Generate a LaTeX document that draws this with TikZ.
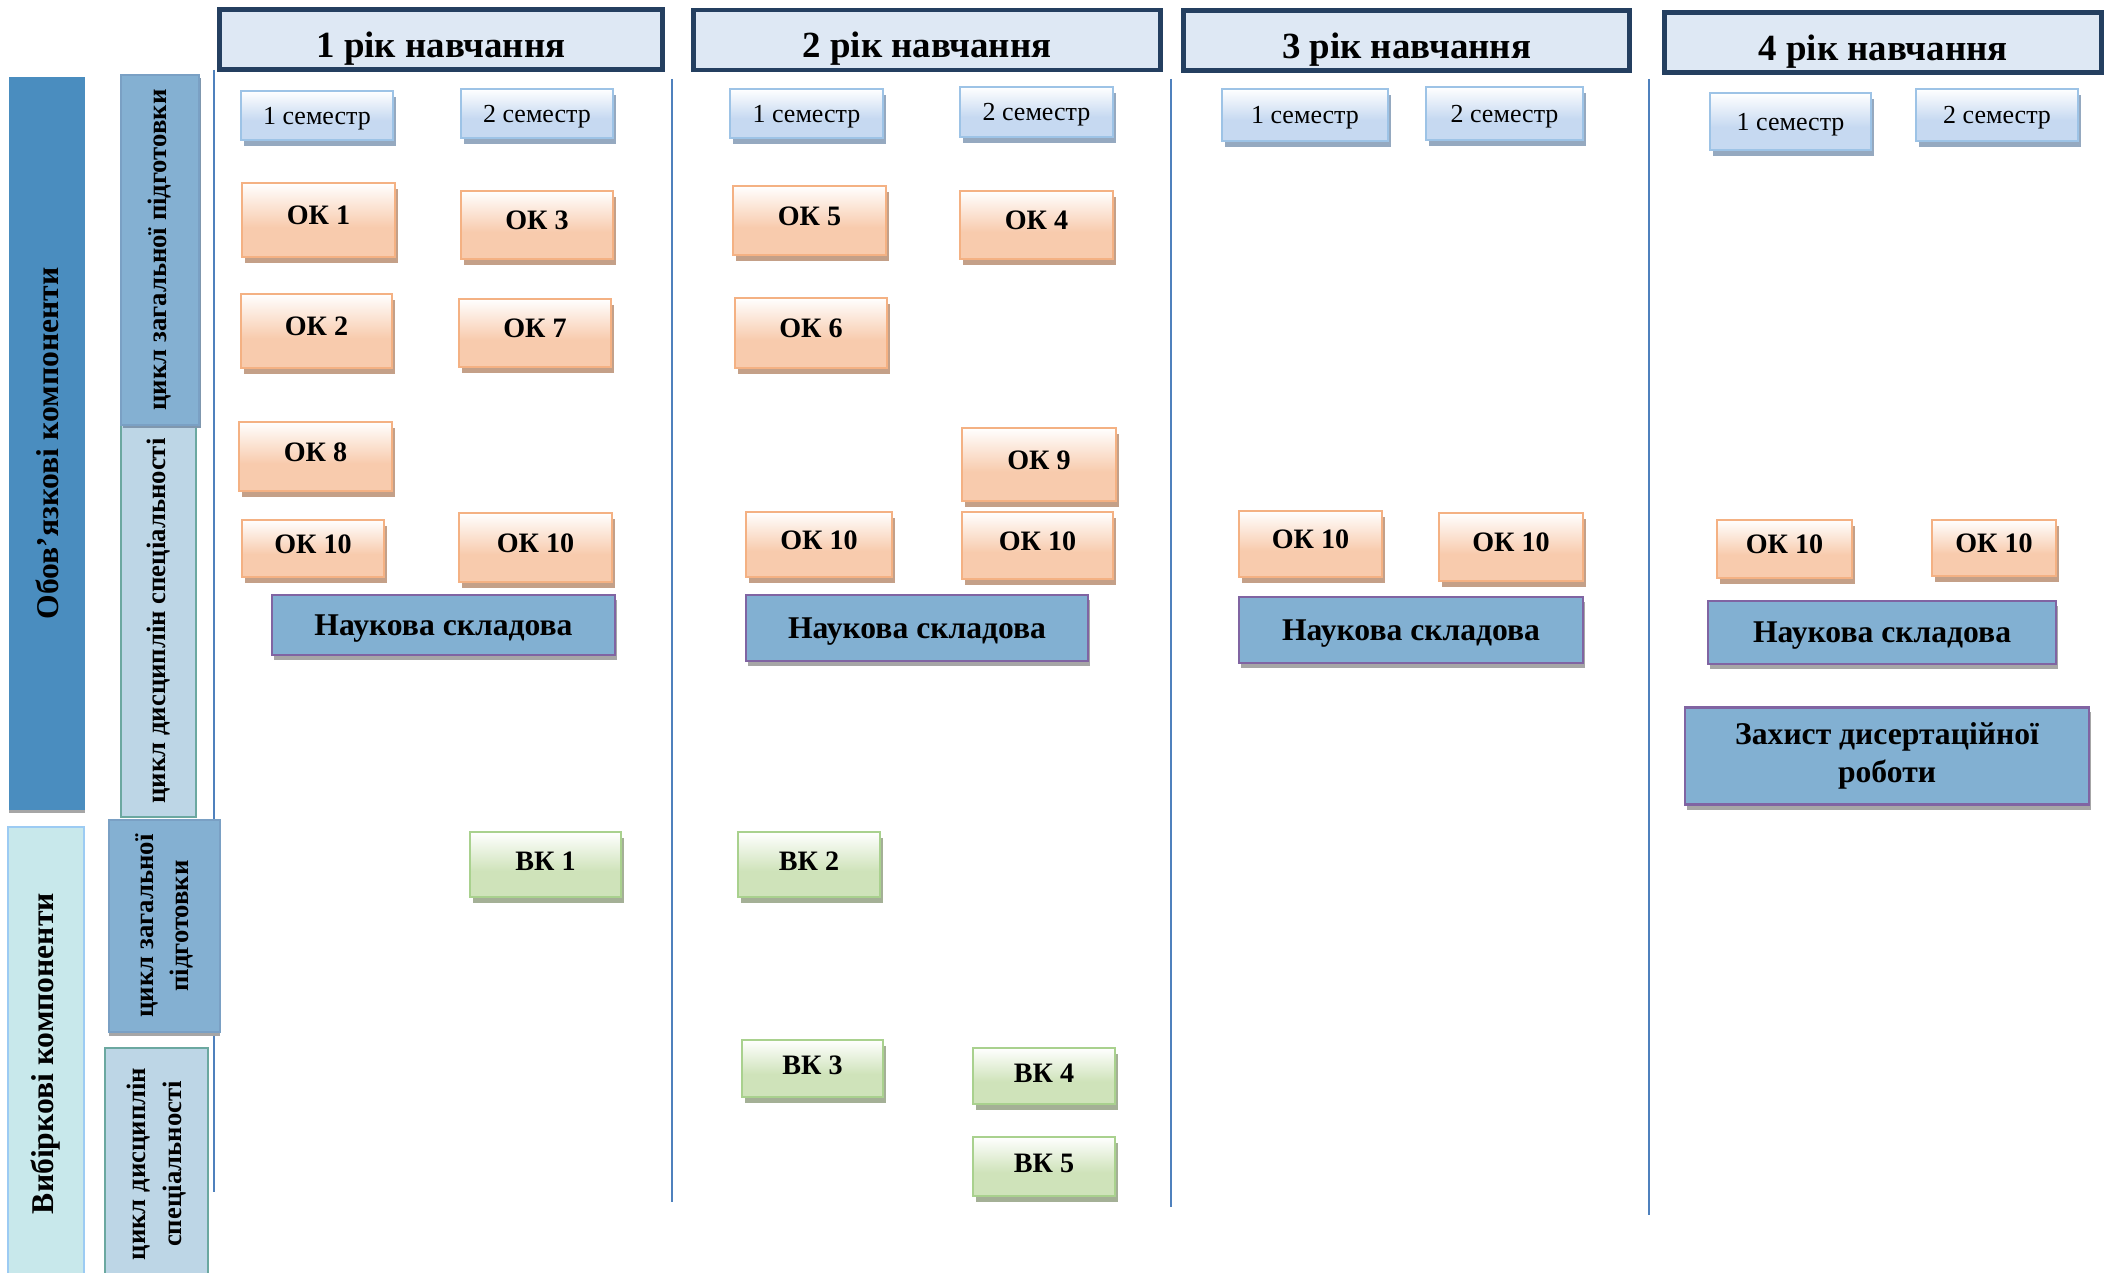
\documentclass[tikz,border=0pt]{standalone}
\usepackage{fontspec}
\setmainfont{Liberation Serif}
\usepackage{tikz}
\usetikzlibrary{shadows}
\usetikzlibrary{shapes}
\definecolor{yearfill}{HTML}{DEE8F4}
\definecolor{yearline}{HTML}{243F60}
\definecolor{semfill}{HTML}{C6D9F1}
\definecolor{semline}{HTML}{9DC3E6}
\definecolor{semshade}{HTML}{95A9C0}
\definecolor{okfill}{HTML}{F8CBAD}
\definecolor{okline}{HTML}{F4B183}
\definecolor{okshade}{HTML}{C4A088}
\definecolor{vkfill}{HTML}{CFE3BA}
\definecolor{vkline}{HTML}{A9D18E}
\definecolor{vkshade}{HTML}{A4B096}
\definecolor{scifill}{HTML}{82B0D2}
\definecolor{sciline}{HTML}{8064A2}
\definecolor{scishade}{HTML}{A6A6A6}
\definecolor{obovfill}{HTML}{4A8DBF}
\definecolor{cycfill}{HTML}{84B0D2}
\definecolor{cycline}{HTML}{7AA0C4}
\definecolor{cycshade}{HTML}{7F97AE}
\definecolor{specfill}{HTML}{BDD6E6}
\definecolor{specline}{HTML}{6BA8A0}
\definecolor{vybfill}{HTML}{C8E8EB}
\definecolor{vybline}{HTML}{9CCBF3}
\definecolor{rulecolor}{HTML}{4F81BD}
% white on top, colour in the lower part
\pgfdeclareverticalshading{semgrad}{100bp}{color(0bp)=(semfill); color(25bp)=(semfill); color(45bp)=(semfill); color(75bp)=(white); color(100bp)=(white)}
\pgfdeclareverticalshading{okgrad}{100bp}{color(0bp)=(okfill); color(25bp)=(okfill); color(45bp)=(okfill); color(75bp)=(white); color(100bp)=(white)}
\pgfdeclareverticalshading{vkgrad}{100bp}{color(0bp)=(vkfill); color(25bp)=(vkfill); color(45bp)=(vkfill); color(75bp)=(white); color(100bp)=(white)}
\tikzstyle{yearbox}=[rectangle,draw=yearline,line width=1.4pt,fill=yearfill,inner sep=0pt,font=\fontsize{10.5}{12}\selectfont\bfseries,text height=0.36cm,text depth=0cm]
\tikzstyle{semesterbox}=[rectangle,draw=semline,line width=0.8pt,shade,shading=semgrad,inner sep=0pt,font=\fontsize{7.4}{9}\selectfont,text height=0.18cm,text depth=0cm,drop shadow={shadow xshift=0.3mm,shadow yshift=-0.6mm,fill=semshade,opacity=1}]
\tikzstyle{okbox}=[rectangle,draw=okline,line width=0.8pt,shade,shading=okgrad,inner sep=0pt,font=\fontsize{8}{9}\selectfont\bfseries,text height=0.2cm,text depth=0.1cm,drop shadow={shadow xshift=0.3mm,shadow yshift=-0.6mm,fill=okshade,opacity=1}]
\tikzstyle{vkbox}=[rectangle,draw=vkline,line width=0.8pt,shade,shading=vkgrad,inner sep=0pt,font=\fontsize{8}{9}\selectfont\bfseries,text height=0.2cm,text depth=0.08cm,drop shadow={shadow xshift=0.3mm,shadow yshift=-0.6mm,fill=vkshade,opacity=1}]
\tikzstyle{scibox}=[rectangle,draw=sciline,line width=0.7pt,fill=scifill,inner sep=0pt,align=center,font=\fontsize{9}{11}\selectfont\bfseries,drop shadow={shadow xshift=0.2mm,shadow yshift=-0.5mm,fill=scishade,opacity=1}]
\tikzstyle{sidebar}=[rectangle,rotate=90,inner sep=0pt,align=center,line width=0.6pt,font=\fontsize{9}{11}\selectfont\bfseries]
\tikzstyle{cyclebar}=[sidebar,font=\fontsize{7.6}{10}\selectfont\bfseries]
\tikzstyle{rule}=[draw=rulecolor,line width=0.6pt]

\begin{document}
\begin{tikzpicture}[x=0.1mm,y=-0.1mm]
    \useasboundingbox (0,0) rectangle (2112,1273);

    % First we draw the column rules
    \foreach \xpos/\ytop/\ybot in {214/70/1192, 672/79/1202, 1171/79/1207, 1649/79/1215}
        \path[rule] (\xpos,\ytop) -- (\xpos,\ybot);

    % the years on top
    \foreach \pos/\name/\label/\w in {{(441,39.5)/year1/1 рік навчання/4.43}, {(927,40)/year2/2 рік навчання/4.67}, {(1406.5,40.5)/year3/3 рік навчання/4.46}, {(1883,42.5)/year4/4 рік навчання/4.37}}
        \node[yearbox,minimum width=\w cm,minimum height=0.6cm] (\name) at \pos {\label};

    % semesters
    \foreach \pos/\name/\label/\w/\h in {{(317,115.5)/sem11/1 семестр/1.52/0.49}, {(537,113.5)/sem12/2 семестр/1.52/0.49}, {(806.5,113.5)/sem21/1 семестр/1.53/0.49}, {(1036.5,112)/sem22/2 семестр/1.53/0.50}, {(1305,115)/sem31/1 семестр/1.66/0.52}, {(1504.5,113.5)/sem32/2 семестр/1.57/0.53}, {(1790.5,121.5)/sem41/1 семестр/1.61/0.57}, {(1997,115)/sem42/2 семестр/1.62/0.52}}
        \node[semesterbox,minimum width=\w cm,minimum height=\h cm] (\name) at \pos {\label};

    % obligatory components
    \foreach \pos/\name/\label/\w/\h in {{(318.5,220)/ok1/ОК 1/1.53/0.74}, {(537,225)/ok3/ОК 3/1.52/0.68}, {(316.5,331)/ok2/ОК 2/1.51/0.74}, {(535,333)/ok7/ОК 7/1.52/0.68}, {(315.5,456.5)/ok8/ОК 8/1.53/0.69}, {(313,548.5)/ok10i/ОК 10/1.42/0.57}, {(535.5,547.5)/ok10ii/ОК 10/1.53/0.69},
        {(809.5,220.5)/ok5/ОК 5/1.53/0.69}, {(1036.5,225)/ok4/ОК 4/1.53/0.68}, {(811,333)/ok6/ОК 6/1.52/0.70}, {(1039,464.5)/ok9/ОК 9/1.54/0.73}, {(819,544.5)/ok10iii/ОК 10/1.46/0.65}, {(1037.5,545.5)/ok10iv/ОК 10/1.51/0.67},
        {(1310.5,544)/ok10v/ОК 10/1.43/0.66}, {(1511,547)/ok10vi/ОК 10/1.44/0.68}, {(1784.5,549)/ok10vii/ОК 10/1.35/0.58}, {(1994,548)/ok10viii/ОК 10/1.24/0.56}}
        \node[okbox,minimum width=\w cm,minimum height=\h cm] (\name) at \pos {\label};

    % research part
    \foreach \pos/\name/\w/\h in {{(443.5,625)/sci1/3.43/0.60}, {(917,628)/sci2/3.42/0.66}, {(1411,630)/sci3/3.44/0.66}, {(1882,632.5)/sci4/3.48/0.63}}
        \node[scibox,minimum width=\w cm,minimum height=\h cm,text height=0.23cm,text depth=0.02cm] (\name) at \pos {Наукова складова};
    \node[scibox,minimum width=4.04cm,minimum height=0.97cm] (defence) at (1887,756) {Захист дисертаційної\\роботи};

    % elective components
    \foreach \pos/\name/\label/\w/\h in {{(545.5,864.5)/vk1/ВК 1/1.51/0.65}, {(809,864.5)/vk2/ВК 2/1.42/0.65}, {(812.5,1068.5)/vk3/ВК 3/1.41/0.57}, {(1044,1076)/vk4/ВК 4/1.42/0.56}, {(1044,1166.5)/vk5/ВК 5/1.42/0.59}}
        \node[vkbox,minimum width=\w cm,minimum height=\h cm] (\name) at \pos {\label};

    % side bars, rotated
    \node[sidebar,fill=obovfill,minimum width=7.33cm,minimum height=0.76cm,drop shadow={shadow xshift=0mm,shadow yshift=-0.35mm,fill=scishade,opacity=1}] (oblig) at (47,443.5) {Обов'язкові компоненти};
    \node[sidebar,fill=vybfill,draw=vybline,minimum width=4.53cm,minimum height=0.76cm] (elect) at (46,1053.5) {Вибіркові компоненти};
    \node[cyclebar,fill=specfill,draw=specline,minimum width=3.92cm,minimum height=0.75cm] (spec1) at (158.5,621) {цикл дисциплін спеціальності};
    \node[cyclebar,fill=cycfill,draw=cycline,minimum width=3.50cm,minimum height=0.78cm,drop shadow={shadow xshift=0.2mm,shadow yshift=-0.3mm,fill=cycshade,opacity=1}] (gen1) at (160,250) {цикл загальної підготовки};
    \node[cyclebar,fill=cycfill,draw=cycline,minimum width=2.12cm,minimum height=1.11cm,drop shadow={shadow xshift=0mm,shadow yshift=-0.4mm,fill=scishade,opacity=1}] (gen2) at (164.5,926) {цикл загальної\\підготовки};
    \node[cyclebar,fill=specfill,draw=specline,minimum width=2.32cm,minimum height=1.03cm] (spec2) at (156.5,1164) {цикл дисциплін\\спеціальності};

\end{tikzpicture}
\end{document}
